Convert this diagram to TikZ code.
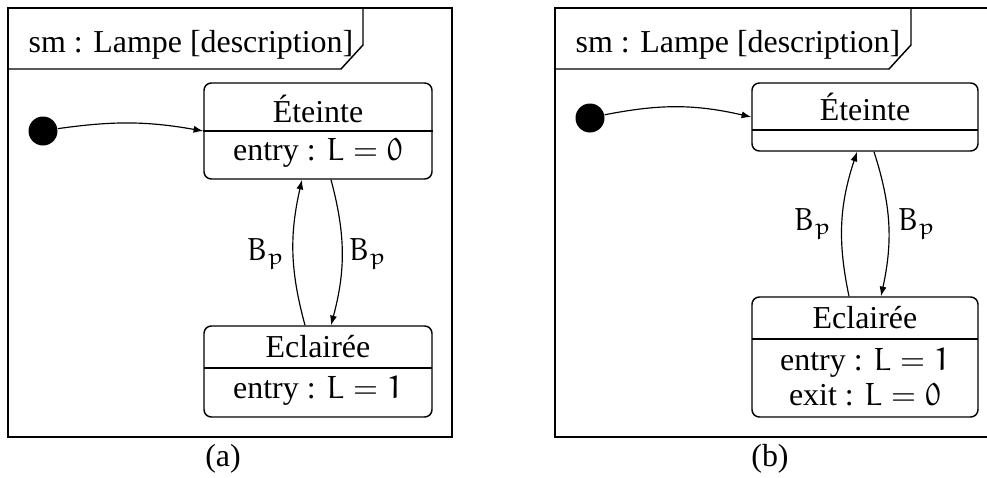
\documentclass[tikz,border=0pt]{standalone}
\usepackage{fontspec}
\setmainfont{Liberation Serif}
\DeclareMathAlphabet{\eur}{U}{eur}{m}{n}
\usetikzlibrary{arrows.meta,calc}
\def\u{0.3413pt}
\newcommand{\Lval}[1]{$\eur{L} = \eur{#1}$}
\newcommand{\Bp}{$\eur{B}_{\eur{p}}$}
\tikzset{
  frame/.style={draw, line width=0.5pt},
  statebox/.style={draw, line width=0.5pt, rounded corners=2.5pt, inner sep=0pt},
  sep/.style={line width=0.5pt},
  lbl/.style={inner sep=0pt, anchor=base, font=\fontsize{10.9}{13}\selectfont},
  trans/.style={line width=0.4pt, -{Latex[length=3.3pt,width=2.4pt]}},
  initial/.style={circle, fill=black, inner sep=0pt, minimum size=29*\u},
}
\begin{document}
\begin{tikzpicture}[x=\u, y=-\u]
\useasboundingbox (0,0) rectangle (987,477);
\clip (0,0) rectangle (987,477);

% ---------- (a) ----------
\draw[frame] (8,8) rectangle (452,437);
\draw[frame] (8,69) -- (341,69) -- (363,45) -- (363,8);
\node[lbl, anchor=base west] (titlea) at (28,52) {sm : Lampe [description]};

\node[initial] (inia) at (43,131) {};
\node[statebox, minimum width=228*\u, minimum height=96*\u] (eta) at (318,131) {};
\draw[sep] (eta.west) -- (eta.east);
\node[lbl] (etaname) at (318,122) {Éteinte};
\node[lbl] (etaentry) at (318,160) {entry : \Lval{0}};

\node[statebox, minimum width=228*\u, minimum height=91*\u] (ecla) at (318,371.5) {};
\draw[sep] (204,368) -- (432,368);
\node[lbl] (eclaname) at (318,357) {Eclairée};
\node[lbl] (eclaentry) at (318,398) {entry : \Lval{1}};

\draw[trans] (inia) to[bend left=9] (eta.west);
\draw[trans] ([xshift=-13*\u]ecla.north) to[bend left=14] ([xshift=-16*\u]eta.south);
\draw[trans] ([xshift=13*\u]eta.south) to[bend left=15] ([xshift=13*\u]ecla.north);
\node[lbl] (bpa1) at (266,260) {\Bp};
\node[lbl] (bpa2) at (368,260) {\Bp};

\node[lbl] (capa) at (223,466) {(a)};

% ---------- (b) ----------
\draw[frame] (555,8) rectangle (999,437);
\draw[frame] (555,69) -- (889,69) -- (911,45) -- (911,8);
\node[lbl, anchor=base west] (titleb) at (575,52) {sm : Lampe [description]};

\node[initial] (inib) at (590,118) {};
\node[statebox, minimum width=226*\u, minimum height=68*\u] (etb) at (865,117) {};
\draw[sep] (752,130) -- (978,130);
\node[lbl] (etbname) at (865,120) {Éteinte};

\node[statebox, minimum width=226*\u, minimum height=120*\u] (eclb) at (865,357) {};
\draw[sep] (752,339) -- (978,339);
\node[lbl] (eclbname) at (865,328) {Eclairée};
\node[lbl] (eclbentry) at (865,370) {entry : \Lval{1}};
\node[lbl] (eclbexit) at (865,405) {exit : \Lval{0}};

\draw[trans] (inib) to[bend left=12] (etb.west);
\draw[trans] ([xshift=-16*\u]eclb.north) to[bend left=15] ([xshift=-8*\u]etb.south);
\draw[trans] ([xshift=9*\u]etb.south) to[bend left=15] ([xshift=16*\u]eclb.north);
\node[lbl] (bpb1) at (813,230) {\Bp};
\node[lbl] (bpb2) at (917,230) {\Bp};

\node[lbl] (capb) at (770,466) {(b)};
\end{tikzpicture}
\end{document}
